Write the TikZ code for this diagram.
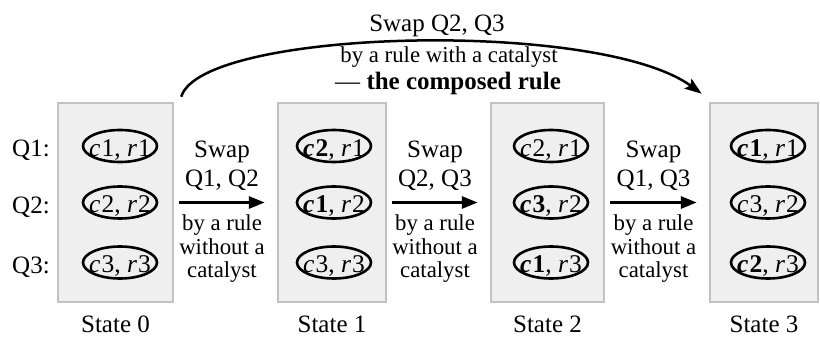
\documentclass[tikz,border=0pt]{standalone}
\usepackage{fontspec}
\setmainfont{Liberation Serif}
\usetikzlibrary{arrows.meta,shapes.geometric}
\definecolor{boxfill}{HTML}{EFEFEF}
\definecolor{boxline}{HTML}{C2C2C2}
% italic variable with a little room after it
\newcommand{\qv}[1]{\textit{#1\/}\kern1pt}
\begin{document}
\begin{tikzpicture}[x=1pt,y=-1pt,
  main/.style={font=\fontsize{25}{28}\selectfont, inner sep=0pt, anchor=base},
  small/.style={font=\fontsize{22.8}{24}\selectfont, inner sep=0pt, anchor=base},
  statebox/.style={draw=boxline, fill=boxfill, line width=2.5pt, minimum height=199pt, inner sep=0pt},
  cell/.style={ellipse, draw, line width=2.6pt, minimum width=74pt, minimum height=32pt, inner sep=0pt,
    label={[font=\fontsize{25.5}{28}\selectfont, inner sep=0pt, yshift=-4pt]center:{#1}}},
  flow/.style={line width=3pt, -{Triangle[length=16pt,width=12pt]}},
]
\useasboundingbox (0,0) rectangle (820,337);

% the four states
\node[statebox, minimum width=115pt] (s0) at (115.5,202.5) {};
\node[statebox, minimum width=108pt] (s1) at (332,202.5) {};
\node[statebox, minimum width=113pt] (s2) at (547.5,202.5) {};
\node[statebox, minimum width=108pt] (s3) at (764,202.5) {};

% row labels
\node[main] (q1) at (31,157) {Q1:};
\node[main] (q2) at (31,213) {Q2:};
\node[main] (q3) at (31,273) {Q3:};

% State 0
\node[cell={\qv{c}1, \qv{r}1}] (a1) at (120,146) {};
\node[cell={\qv{c}2, \qv{r}2}] (a2) at (120,202.5) {};
\node[cell={\qv{c}3, \qv{r}3}] (a3) at (120,262.5) {};
% State 1
\node[cell={\textbf{\qv{c}2}, \qv{r}1}] (b1) at (334,146) {};
\node[cell={\textbf{\qv{c}1}, \qv{r}2}] (b2) at (334,202.5) {};
\node[cell={\qv{c}3, \qv{r}3}] (b3) at (334,262.5) {};
% State 2
\node[cell={\qv{c}2, \qv{r}1}] (c1) at (551,146) {};
\node[cell={\textbf{\qv{c}3}, \qv{r}2}] (c2) at (551,202.5) {};
\node[cell={\textbf{\qv{c}1}, \qv{r}3}] (c3) at (551,262.5) {};
% State 3
\node[cell={\textbf{\qv{c}1}, \qv{r}1}] (d1) at (768,146) {};
\node[cell={\qv{c}3, \qv{r}2}] (d2) at (768,202.5) {};
\node[cell={\textbf{\qv{c}2}, \qv{r}3}] (d3) at (768,262.5) {};

% state captions
\node[main] (l0) at ([yshift=-29pt]s0.south) {State 0};
\node[main] (l1) at ([yshift=-29pt]s1.south) {State 1};
\node[main] (l2) at ([yshift=-29pt]s2.south) {State 2};
\node[main] (l3) at ([yshift=-29pt]s3.south) {State 3};

% single swaps
\draw[flow] ([xshift=5pt]s0.east) -- ([xshift=-12pt]s1.west)
  node[main, midway, yshift=45pt] {Swap}
  node[main, midway, yshift=16pt] {Q1, Q2}
  node[small, midway, yshift=-28pt] {by a rule}
  node[small, midway, yshift=-51.5pt] {without a}
  node[small, midway, yshift=-75pt] {catalyst};
\draw[flow] ([xshift=5pt]s1.east) -- ([xshift=-12pt]s2.west)
  node[main, midway, yshift=45pt] {Swap}
  node[main, midway, yshift=16pt] {Q2, Q3}
  node[small, midway, yshift=-28pt] {by a rule}
  node[small, midway, yshift=-51.5pt] {without a}
  node[small, midway, yshift=-75pt] {catalyst};
\draw[flow] ([xshift=5pt]s2.east) -- ([xshift=-12pt]s3.west)
  node[main, midway, yshift=45pt] {Swap}
  node[main, midway, yshift=16pt] {Q1, Q3}
  node[small, midway, yshift=-28pt] {by a rule}
  node[small, midway, yshift=-51.5pt] {without a}
  node[small, midway, yshift=-75pt] {catalyst};

% composed swap
\draw[line width=2.5pt, -{Stealth[length=17pt,width=12pt,inset=3pt]}]
  ([shift={(7,-5)}]s0.north east) .. controls +(20,-68) and +(-103,-75) .. ([shift={(-7,-8)}]s3.north west);
\node[main] (t1) at (437,32) {Swap Q2, Q3};
\node[small] (t2) at (449,63) {by a rule with a catalyst};
\node[main] (t3) at (448,90) {— \textbf{the composed rule}};
\end{tikzpicture}
\end{document}
